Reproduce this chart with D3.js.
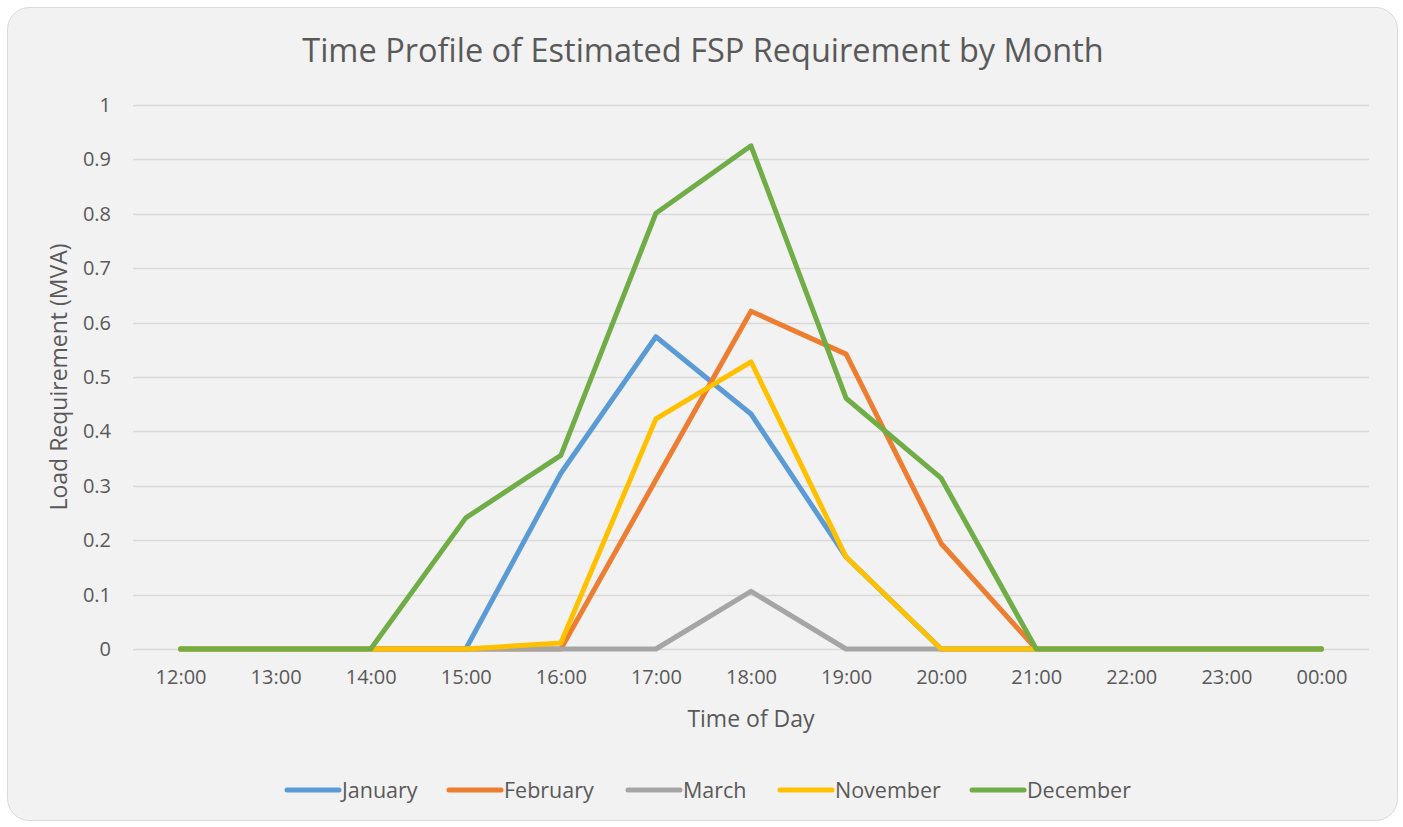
<!DOCTYPE html>
<html>
<head>
<meta charset="utf-8">
<script src="https://cdn.jsdelivr.net/npm/d3@7"></script>
<style>
  body { margin: 0; background: #fff; }
  text { font-family: "Open Sans", sans-serif; fill: #595959; }
</style>
</head>
<body>
<svg id="chart"></svg>
<script>
let hours = ["12:00", "13:00", "14:00", "15:00", "16:00", "17:00", "18:00",
  "19:00", "20:00", "21:00", "22:00", "23:00", "00:00"];

let january  = [0, 0, 0, 0, 0.323, 0.574, 0.432, 0.169, 0, 0, 0, 0, 0];
let february = [0, 0, 0, 0, 0, 0.311, 0.621, 0.542, 0.194, 0, 0, 0, 0];
let march    = [0, 0, 0, 0, 0, 0, 0.106, 0, 0, 0, 0, 0, 0];
let november = [0, 0, 0, 0, 0.011, 0.423, 0.528, 0.169, 0, 0, 0, 0, 0];
let december = [0, 0, 0, 0.241, 0.356, 0.801, 0.925, 0.461, 0.314, 0, 0, 0, 0];

let seriesNames = ["January", "February", "March", "November", "December"];
let seriesColors = ["#5b9bd5", "#ed7d31", "#a5a5a5", "#ffc000", "#70ad47"];
let yTicks = [0, 0.1, 0.2, 0.3, 0.4, 0.5, 0.6, 0.7, 0.8, 0.9, 1];

let series = [january, february, march, november, december].map((vals, i) => {
  return { name: seriesNames[i], color: seriesColors[i], values: vals };
});

let width = 1403, height = 827;
let svg = d3.select("#chart").attr("width", width).attr("height", height);

// chart frame
svg.append("rect")
  .attr("x", 7.5).attr("y", 7.5)
  .attr("width", 1390).attr("height", 813)
  .attr("rx", 22).attr("ry", 22)
  .attr("fill", "#f2f2f2")
  .attr("stroke", "#d9d9d9");

let plot = { left: 133, right: 1369, top: 105, bottom: 649 };

let x = d3.scalePoint().domain(hours).range([plot.left, plot.right]).padding(0.5);
let y = d3.scaleLinear().domain([0, 1]).range([plot.bottom, plot.top]);

// gridlines
svg.append("g")
  .selectAll("line")
  .data(yTicks)
  .enter()
  .append("line")
  .attr("x1", plot.left).attr("x2", plot.right)
  .attr("y1", (d) => Math.round(y(d)) + 0.5)
  .attr("y2", (d) => Math.round(y(d)) + 0.5)
  .attr("stroke", "#d9d9d9")
  .attr("stroke-width", 1.5);

// y axis labels
let yAxis = svg.append("g")
  .attr("transform", `translate(${plot.left - 22},0)`)
  .call(d3.axisLeft(y).tickValues(yTicks).tickSize(0).tickPadding(0).tickFormat(d3.format("")));
yAxis.select(".domain").remove();
yAxis.selectAll("text")
  .attr("font-size", 20)
  .attr("font-family", "'Open Sans', sans-serif")
  .attr("fill", "#595959");

// x axis labels
let xAxis = svg.append("g")
  .attr("transform", `translate(0,${plot.bottom})`)
  .call(d3.axisBottom(x).tickSize(0).tickPadding(21));
xAxis.select(".domain").remove();
xAxis.selectAll("text")
  .attr("font-size", 20)
  .attr("font-family", "'Open Sans', sans-serif")
  .attr("fill", "#595959");

// lines
let line = d3.line()
  .x((d, i) => x(hours[i]))
  .y((d) => y(d));

svg.append("g")
  .selectAll("path")
  .data(series)
  .enter()
  .append("path")
  .attr("d", (d) => line(d.values))
  .attr("fill", "none")
  .attr("stroke", (d) => d.color)
  .attr("stroke-width", 5)
  .attr("stroke-linejoin", "round")
  .attr("stroke-linecap", "round");

// titles
svg.append("text")
  .attr("x", 703).attr("y", 62)
  .attr("text-anchor", "middle")
  .attr("font-size", 32.5)
  .text("Time Profile of Estimated FSP Requirement by Month");

svg.append("text")
  .attr("x", (plot.left + plot.right) / 2).attr("y", 727)
  .attr("text-anchor", "middle")
  .attr("font-size", 23)
  .text("Time of Day");

svg.append("text")
  .attr("transform", `translate(67,${(plot.top + plot.bottom) / 2}) rotate(-90)`)
  .attr("text-anchor", "middle")
  .attr("font-size", 23)
  .text("Load Requirement (MVA)");

// legend
let legendX = [285, 447, 626, 778, 970];
let legend = svg.append("g")
  .selectAll("g")
  .data(series)
  .enter()
  .append("g")
  .attr("transform", (d, i) => `translate(${legendX[i]},790)`);

legend.append("line")
  .attr("x1", 2).attr("x2", 54)
  .attr("stroke", (d) => d.color)
  .attr("stroke-width", 5)
  .attr("stroke-linecap", "round");

legend.append("text")
  .attr("x", 57).attr("y", 7.5)
  .attr("font-size", 21.5)
  .text((d) => d.name);
</script>
</body>
</html>
